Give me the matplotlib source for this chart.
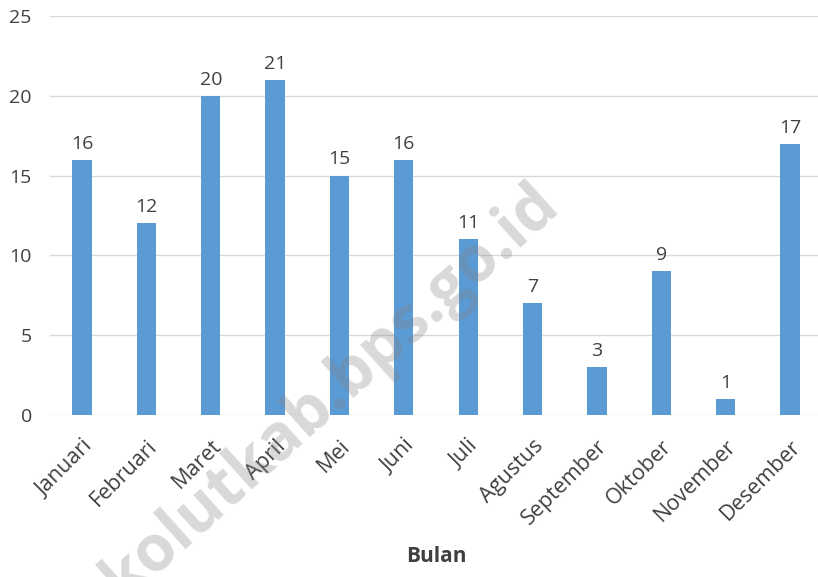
import matplotlib
matplotlib.use("Agg")
import matplotlib.pyplot as plt

months = ["Januari", "Februari", "Maret", "April", "Mei", "Juni", "Juli",
          "Agustus", "September", "Oktober", "November", "Desember"]
values = [16, 12, 20, 21, 15, 16, 11, 7, 3, 9, 1, 17]
yticks = [0, 5, 10, 15, 20, 25]

plt.rcParams['font.family'] = ['Open Sans', 'DejaVu Sans']
txt = '#404040'

fig = plt.figure(figsize=(8.18, 5.77), dpi=100)
ax = fig.add_axes([0.061, 0.281, 0.944, 0.691])
x = range(len(months))
ax.bar(x, values, width=0.3, color='#5B9BD5', zorder=3)
for xi, v in zip(x, values):
    ax.text(xi, v + 0.45, str(v), ha='center', va='bottom', fontsize=14, color=txt)

ax.set_xlim(-0.5, len(months) - 0.5)
ax.set_ylim(0, 25)
ax.set_yticks(yticks)
ax.set_yticklabels([str(t) for t in yticks], fontsize=14, color=txt)
ax.set_xticks(list(x))
ax.set_xticklabels(months, rotation=45, ha='right', rotation_mode='anchor',
                   fontsize=15.5, color=txt)
ax.tick_params(length=0)
ax.tick_params(axis='y', pad=13)
ax.tick_params(axis='x', pad=15)
ax.grid(axis='y', color='#d9d9d9', linewidth=1, zorder=0)
for s in ax.spines.values():
    s.set_visible(False)
ax.set_xlabel('Bulan', fontsize=15, fontweight='bold', color=txt, labelpad=12)

fig.text(0.405, 0.32, 'kolutkab.bps.go.id', fontsize=46, fontweight='bold',
         color='#808080', alpha=0.3, rotation=42, ha='center', va='center')

fig.savefig('out.png', dpi=100)
